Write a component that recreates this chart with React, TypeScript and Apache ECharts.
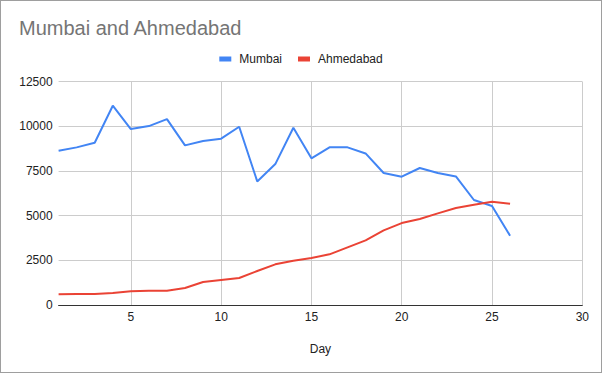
import React, { useEffect, useRef } from "react";
import * as echarts from "echarts";

const days = [1, 2, 3, 4, 5, 6, 7, 8, 9, 10, 11, 12, 13, 14, 15, 16, 17, 18, 19, 20, 21, 22, 23, 24, 25, 26];
const mumbai = [8630, 8820, 9080, 11150, 9845, 10010, 10400, 8930, 9175, 9305, 9975, 6915, 7885, 9920, 8205, 8820, 8820, 8480, 7385, 7180, 7665, 7385, 7195, 5875, 5540, 3880];
const ahmedabad = [600, 610, 620, 670, 765, 800, 800, 950, 1285, 1400, 1510, 1900, 2275, 2480, 2630, 2835, 3225, 3615, 4175, 4585, 4810, 5125, 5425, 5610, 5780, 5670];
const xTicks = [5, 10, 15, 20, 25, 30];
const seriesNames = ["Mumbai", "Ahmedabad"];
const colors = ["#4285F4", "#EA4335"];

const FONT = "'Liberation Sans', Arial, sans-serif";

export default function App() {
  const ref = useRef<HTMLDivElement>(null);
  useEffect(() => {
    if (!ref.current) return;
    const chart = echarts.init(ref.current, null, { renderer: "svg" });
    const toPairs = (vals: number[]) => days.map((d, i) => [d, vals[i]]);
    chart.setOption({
      animation: false,
      textStyle: { fontFamily: FONT },
      title: {
        text: "Mumbai and Ahmedabad",
        left: 19,
        top: 18,
        padding: 0,
        textStyle: { fontFamily: FONT, fontSize: 20, fontWeight: "normal", color: "#757575" },
      },
      legend: {
        top: 48,
        left: "center",
        icon: "rect",
        itemWidth: 12,
        itemHeight: 5,
        itemGap: 16,
        textStyle: { fontFamily: FONT, fontSize: 12, color: "#222", padding: [0, 0, 0, 3] },
        data: seriesNames,
      },
      grid: { left: 58.6, right: 19.7, top: 81.6, bottom: 68, containLabel: false, outerBoundsMode: "none" },
      xAxis: {
        type: "value",
        min: 1,
        max: 30,
        name: "Day",
        nameLocation: "middle",
        nameGap: 38,
        nameTextStyle: { fontFamily: FONT, fontSize: 12, color: "#222" },
        axisLine: { show: true, lineStyle: { color: "#333", width: 1 } },
        axisTick: { show: false, customValues: xTicks },
        axisLabel: { customValues: xTicks, fontFamily: FONT, fontSize: 12, color: "#222", margin: 6 },
        splitLine: { show: true, lineStyle: { color: "#cccccc", width: 1 } },
      },
      yAxis: {
        type: "value",
        min: 0,
        max: 12500,
        interval: 2500,
        axisLine: { show: false },
        axisTick: { show: false },
        axisLabel: {
          fontFamily: FONT,
          fontSize: 12,
          color: "#222",
          margin: 6,
          formatter: (v: number) => String(v),
        },
        splitLine: { show: true, lineStyle: { color: "#cccccc", width: 1 } },
      },
      series: [
        {
          name: seriesNames[0],
          type: "line",
          data: toPairs(mumbai),
          symbol: "none",
          lineStyle: { width: 2, color: colors[0] },
          itemStyle: { color: colors[0] },
        },
        {
          name: seriesNames[1],
          type: "line",
          data: toPairs(ahmedabad),
          symbol: "none",
          lineStyle: { width: 2, color: colors[1] },
          itemStyle: { color: colors[1] },
        },
      ],
    });
    return () => chart.dispose();
  }, []);
  return (
    <div
      style={{
        position: "fixed",
        left: 0,
        top: 0,
        width: 602,
        height: 373,
        border: "1px solid #9e9e9e",
        boxSizing: "border-box",
        background: "#fff",
      }}
    >
      <div ref={ref} style={{ position: "absolute", left: -1, top: -1, width: 602, height: 373 }} />
    </div>
  );
}
